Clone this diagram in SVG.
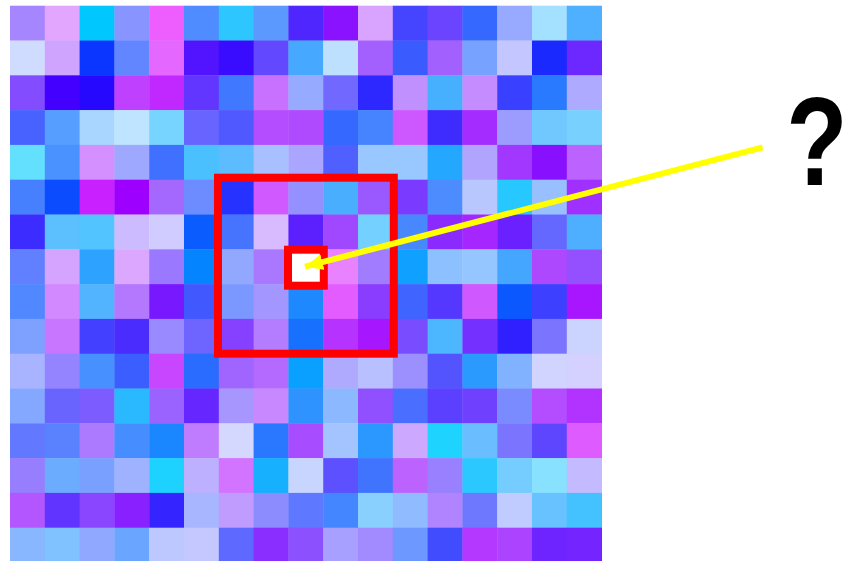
<svg xmlns="http://www.w3.org/2000/svg" width="850" height="561" viewBox="0 0 850 561">
<style>
#grid rect{width:35.2px;height:35.2px}
.box{fill:none;stroke:#ff0000;stroke-width:8}
.q{font-family:"Liberation Sans",Arial,sans-serif;font-weight:bold;font-size:127px;fill:#000}
</style>
<defs>
<marker id="ah" markerUnits="userSpaceOnUse" markerWidth="20" markerHeight="16" refX="18" refY="8" orient="auto">
<path d="M0,0 L18,8 L0,16 Z" fill="#ffff00"/>
</marker>
</defs>
<rect width="850" height="561" fill="#fff"/>
<g id="grid">
<g transform="translate(10,5.7)">
<rect x="0" width="35.2" height="35.2" fill="#a686ff"/><rect x="34.8" width="35.2" height="35.2" fill="#e3a6ff"/><rect x="69.6" width="35.2" height="35.2" fill="#00c8ff"/><rect x="104.4" width="35.2" height="35.2" fill="#8894ff"/><rect x="139.2" width="35.2" height="35.2" fill="#ee5eff"/><rect x="174" width="35.2" height="35.2" fill="#4f8cff"/><rect x="208.8" width="35.2" height="35.2" fill="#2ec6ff"/><rect x="243.6" width="35.2" height="35.2" fill="#5b99ff"/><rect x="278.4" width="35.2" height="35.2" fill="#5026ff"/><rect x="313.2" width="35.2" height="35.2" fill="#8a12ff"/><rect x="348" width="35.2" height="35.2" fill="#d8a4ff"/><rect x="382.8" width="35.2" height="35.2" fill="#4545ff"/><rect x="417.6" width="35.2" height="35.2" fill="#6a44ff"/><rect x="452.4" width="35.2" height="35.2" fill="#3468ff"/><rect x="487.2" width="35.2" height="35.2" fill="#98aaff"/><rect x="522" width="35.2" height="35.2" fill="#a4e0ff"/><rect x="556.8" width="34.8" height="35.2" fill="#4eb0ff"/>
</g>
<g transform="translate(10,40.5)">
<rect x="0" width="35.2" height="35.2" fill="#d0dcff"/><rect x="34.8" width="35.2" height="35.2" fill="#cfa4ff"/><rect x="69.6" width="35.2" height="35.2" fill="#0b36ff"/><rect x="104.4" width="35.2" height="35.2" fill="#6286ff"/><rect x="139.2" width="35.2" height="35.2" fill="#e468ff"/><rect x="174" width="35.2" height="35.2" fill="#5214ff"/><rect x="208.8" width="35.2" height="35.2" fill="#3a0cff"/><rect x="243.6" width="35.2" height="35.2" fill="#6248ff"/><rect x="278.4" width="35.2" height="35.2" fill="#46a8ff"/><rect x="313.2" width="35.2" height="35.2" fill="#bee0ff"/><rect x="348" width="35.2" height="35.2" fill="#a460ff"/><rect x="382.8" width="35.2" height="35.2" fill="#3a5cff"/><rect x="417.6" width="35.2" height="35.2" fill="#a260ff"/><rect x="452.4" width="35.2" height="35.2" fill="#78a2ff"/><rect x="487.2" width="35.2" height="35.2" fill="#c4c6ff"/><rect x="522" width="35.2" height="35.2" fill="#1a2aff"/><rect x="556.8" width="34.8" height="35.2" fill="#6c28ff"/>
</g>
<g transform="translate(10,75.3)">
<rect x="0" width="35.2" height="35.2" fill="#844cff"/><rect x="34.8" width="35.2" height="35.2" fill="#4400ff"/><rect x="69.6" width="35.2" height="35.2" fill="#2608ff"/><rect x="104.4" width="35.2" height="35.2" fill="#c040ff"/><rect x="139.2" width="35.2" height="35.2" fill="#c028ff"/><rect x="174" width="35.2" height="35.2" fill="#6236ff"/><rect x="208.8" width="35.2" height="35.2" fill="#4078ff"/><rect x="243.6" width="35.2" height="35.2" fill="#c870ff"/><rect x="278.4" width="35.2" height="35.2" fill="#96aaff"/><rect x="313.2" width="35.2" height="35.2" fill="#7068ff"/><rect x="348" width="35.2" height="35.2" fill="#2c28ff"/><rect x="382.8" width="35.2" height="35.2" fill="#c090ff"/><rect x="417.6" width="35.2" height="35.2" fill="#46b0ff"/><rect x="452.4" width="35.2" height="35.2" fill="#c48cff"/><rect x="487.2" width="35.2" height="35.2" fill="#3a40ff"/><rect x="522" width="35.2" height="35.2" fill="#2a7aff"/><rect x="556.8" width="34.8" height="35.2" fill="#aeaaff"/>
</g>
<g transform="translate(10,110.1)">
<rect x="0" width="35.2" height="35.2" fill="#4862ff"/><rect x="34.8" width="35.2" height="35.2" fill="#569eff"/><rect x="69.6" width="35.2" height="35.2" fill="#a8d6ff"/><rect x="104.4" width="35.2" height="35.2" fill="#bee4ff"/><rect x="139.2" width="35.2" height="35.2" fill="#76d4ff"/><rect x="174" width="35.2" height="35.2" fill="#6864ff"/><rect x="208.8" width="35.2" height="35.2" fill="#5058ff"/><rect x="243.6" width="35.2" height="35.2" fill="#b44cff"/><rect x="278.4" width="35.2" height="35.2" fill="#b04aff"/><rect x="313.2" width="35.2" height="35.2" fill="#3468ff"/><rect x="348" width="35.2" height="35.2" fill="#4684ff"/><rect x="382.8" width="35.2" height="35.2" fill="#ce58ff"/><rect x="417.6" width="35.2" height="35.2" fill="#3e2cff"/><rect x="452.4" width="35.2" height="35.2" fill="#a42cff"/><rect x="487.2" width="35.2" height="35.2" fill="#9c9cff"/><rect x="522" width="35.2" height="35.2" fill="#70c8ff"/><rect x="556.8" width="34.8" height="35.2" fill="#78d0ff"/>
</g>
<g transform="translate(10,144.9)">
<rect x="0" width="35.2" height="35.2" fill="#64e0ff"/><rect x="34.8" width="35.2" height="35.2" fill="#4a92ff"/><rect x="69.6" width="35.2" height="35.2" fill="#d490ff"/><rect x="104.4" width="35.2" height="35.2" fill="#9ea8ff"/><rect x="139.2" width="35.2" height="35.2" fill="#4070ff"/><rect x="174" width="35.2" height="35.2" fill="#4ac0ff"/><rect x="208.8" width="35.2" height="35.2" fill="#5cbcff"/><rect x="243.6" width="35.2" height="35.2" fill="#a8c0ff"/><rect x="278.4" width="35.2" height="35.2" fill="#aaa6ff"/><rect x="313.2" width="35.2" height="35.2" fill="#5060ff"/><rect x="348" width="35.2" height="35.2" fill="#98c8ff"/><rect x="382.8" width="35.2" height="35.2" fill="#98c8ff"/><rect x="417.6" width="35.2" height="35.2" fill="#24a8ff"/><rect x="452.4" width="35.2" height="35.2" fill="#b0a4ff"/><rect x="487.2" width="35.2" height="35.2" fill="#a238ff"/><rect x="522" width="35.2" height="35.2" fill="#8810ff"/><rect x="556.8" width="34.8" height="35.2" fill="#bc62ff"/>
</g>
<g transform="translate(10,179.7)">
<rect x="0" width="35.2" height="35.2" fill="#4680ff"/><rect x="34.8" width="35.2" height="35.2" fill="#0c4cff"/><rect x="69.6" width="35.2" height="35.2" fill="#c820ff"/><rect x="104.4" width="35.2" height="35.2" fill="#9e00ff"/><rect x="139.2" width="35.2" height="35.2" fill="#a468ff"/><rect x="174" width="35.2" height="35.2" fill="#6c8cff"/><rect x="208.8" width="35.2" height="35.2" fill="#2632ff"/><rect x="243.6" width="35.2" height="35.2" fill="#d05aff"/><rect x="278.4" width="35.2" height="35.2" fill="#9490ff"/><rect x="313.2" width="35.2" height="35.2" fill="#4aaeff"/><rect x="348" width="35.2" height="35.2" fill="#9a58ff"/><rect x="382.8" width="35.2" height="35.2" fill="#7a3aff"/><rect x="417.6" width="35.2" height="35.2" fill="#4c8cff"/><rect x="452.4" width="35.2" height="35.2" fill="#b8c8ff"/><rect x="487.2" width="35.2" height="35.2" fill="#26c8ff"/><rect x="522" width="35.2" height="35.2" fill="#98c0ff"/><rect x="556.8" width="34.8" height="35.2" fill="#a030ff"/>
</g>
<g transform="translate(10,214.5)">
<rect x="0" width="35.2" height="35.2" fill="#3c2cff"/><rect x="34.8" width="35.2" height="35.2" fill="#5cc0ff"/><rect x="69.6" width="35.2" height="35.2" fill="#52c4ff"/><rect x="104.4" width="35.2" height="35.2" fill="#ccbcff"/><rect x="139.2" width="35.2" height="35.2" fill="#d0ccff"/><rect x="174" width="35.2" height="35.2" fill="#0a5cff"/><rect x="208.8" width="35.2" height="35.2" fill="#4674ff"/><rect x="243.6" width="35.2" height="35.2" fill="#d8baff"/><rect x="278.4" width="35.2" height="35.2" fill="#5c20ff"/><rect x="313.2" width="35.2" height="35.2" fill="#a048ff"/><rect x="348" width="35.2" height="35.2" fill="#74d0ff"/><rect x="382.8" width="35.2" height="35.2" fill="#4888ff"/><rect x="417.6" width="35.2" height="35.2" fill="#8a2aff"/><rect x="452.4" width="35.2" height="35.2" fill="#a626ff"/><rect x="487.2" width="35.2" height="35.2" fill="#6a20ff"/><rect x="522" width="35.2" height="35.2" fill="#6468ff"/><rect x="556.8" width="34.8" height="35.2" fill="#4eaeff"/>
</g>
<g transform="translate(10,249.3)">
<rect x="0" width="35.2" height="35.2" fill="#6080ff"/><rect x="34.8" width="35.2" height="35.2" fill="#d4a4ff"/><rect x="69.6" width="35.2" height="35.2" fill="#2ea2ff"/><rect x="104.4" width="35.2" height="35.2" fill="#dca8ff"/><rect x="139.2" width="35.2" height="35.2" fill="#9a78ff"/><rect x="174" width="35.2" height="35.2" fill="#0484ff"/><rect x="208.8" width="35.2" height="35.2" fill="#92a8ff"/><rect x="243.6" width="35.2" height="35.2" fill="#aa78ff"/><rect x="278.4" width="35.2" height="35.2" fill="#a080ff"/><rect x="313.2" width="35.2" height="35.2" fill="#e882ff"/><rect x="348" width="35.2" height="35.2" fill="#a27cff"/><rect x="382.8" width="35.2" height="35.2" fill="#10a0ff"/><rect x="417.6" width="35.2" height="35.2" fill="#8cc0ff"/><rect x="452.4" width="35.2" height="35.2" fill="#96c6ff"/><rect x="487.2" width="35.2" height="35.2" fill="#44a6ff"/><rect x="522" width="35.2" height="35.2" fill="#ae48ff"/><rect x="556.8" width="34.8" height="35.2" fill="#9450ff"/>
</g>
<g transform="translate(10,284.1)">
<rect x="0" width="35.2" height="35.2" fill="#5288ff"/><rect x="34.8" width="35.2" height="35.2" fill="#d288ff"/><rect x="69.6" width="35.2" height="35.2" fill="#52b4ff"/><rect x="104.4" width="35.2" height="35.2" fill="#b478ff"/><rect x="139.2" width="35.2" height="35.2" fill="#7818ff"/><rect x="174" width="35.2" height="35.2" fill="#4258ff"/><rect x="208.8" width="35.2" height="35.2" fill="#7a98ff"/><rect x="243.6" width="35.2" height="35.2" fill="#a496ff"/><rect x="278.4" width="35.2" height="35.2" fill="#1e88ff"/><rect x="313.2" width="35.2" height="35.2" fill="#e25cff"/><rect x="348" width="35.2" height="35.2" fill="#8a3cff"/><rect x="382.8" width="35.2" height="35.2" fill="#4064ff"/><rect x="417.6" width="35.2" height="35.2" fill="#5438ff"/><rect x="452.4" width="35.2" height="35.2" fill="#d058ff"/><rect x="487.2" width="35.2" height="35.2" fill="#0c58ff"/><rect x="522" width="35.2" height="35.2" fill="#3e40ff"/><rect x="556.8" width="34.8" height="35.2" fill="#a816ff"/>
</g>
<g transform="translate(10,318.9)">
<rect x="0" width="35.2" height="35.2" fill="#7ea0ff"/><rect x="34.8" width="35.2" height="35.2" fill="#c876ff"/><rect x="69.6" width="35.2" height="35.2" fill="#4440ff"/><rect x="104.4" width="35.2" height="35.2" fill="#4a2cff"/><rect x="139.2" width="35.2" height="35.2" fill="#9a8aff"/><rect x="174" width="35.2" height="35.2" fill="#6e64ff"/><rect x="208.8" width="35.2" height="35.2" fill="#8640ff"/><rect x="243.6" width="35.2" height="35.2" fill="#b47cff"/><rect x="278.4" width="35.2" height="35.2" fill="#1870ff"/><rect x="313.2" width="35.2" height="35.2" fill="#b632ff"/><rect x="348" width="35.2" height="35.2" fill="#a616ff"/><rect x="382.8" width="35.2" height="35.2" fill="#7a4cff"/><rect x="417.6" width="35.2" height="35.2" fill="#4cb6ff"/><rect x="452.4" width="35.2" height="35.2" fill="#7430ff"/><rect x="487.2" width="35.2" height="35.2" fill="#3020ff"/><rect x="522" width="35.2" height="35.2" fill="#7a74ff"/><rect x="556.8" width="34.8" height="35.2" fill="#cad4ff"/>
</g>
<g transform="translate(10,353.7)">
<rect x="0" width="35.2" height="35.2" fill="#a8b4ff"/><rect x="34.8" width="35.2" height="35.2" fill="#9484ff"/><rect x="69.6" width="35.2" height="35.2" fill="#4690ff"/><rect x="104.4" width="35.2" height="35.2" fill="#3a5eff"/><rect x="139.2" width="35.2" height="35.2" fill="#c846ff"/><rect x="174" width="35.2" height="35.2" fill="#2a6cff"/><rect x="208.8" width="35.2" height="35.2" fill="#a064ff"/><rect x="243.6" width="35.2" height="35.2" fill="#b46aff"/><rect x="278.4" width="35.2" height="35.2" fill="#0aa0ff"/><rect x="313.2" width="35.2" height="35.2" fill="#b0aaff"/><rect x="348" width="35.2" height="35.2" fill="#b8c0ff"/><rect x="382.8" width="35.2" height="35.2" fill="#9c90ff"/><rect x="417.6" width="35.2" height="35.2" fill="#5454ff"/><rect x="452.4" width="35.2" height="35.2" fill="#2a9aff"/><rect x="487.2" width="35.2" height="35.2" fill="#80b2ff"/><rect x="522" width="35.2" height="35.2" fill="#d0d4ff"/><rect x="556.8" width="34.8" height="35.2" fill="#d4d0ff"/>
</g>
<g transform="translate(10,388.5)">
<rect x="0" width="35.2" height="35.2" fill="#84a8ff"/><rect x="34.8" width="35.2" height="35.2" fill="#6a64ff"/><rect x="69.6" width="35.2" height="35.2" fill="#7c5cff"/><rect x="104.4" width="35.2" height="35.2" fill="#2ab8ff"/><rect x="139.2" width="35.2" height="35.2" fill="#9a62ff"/><rect x="174" width="35.2" height="35.2" fill="#6626ff"/><rect x="208.8" width="35.2" height="35.2" fill="#a896ff"/><rect x="243.6" width="35.2" height="35.2" fill="#c888ff"/><rect x="278.4" width="35.2" height="35.2" fill="#2e92ff"/><rect x="313.2" width="35.2" height="35.2" fill="#8cb8ff"/><rect x="348" width="35.2" height="35.2" fill="#9050ff"/><rect x="382.8" width="35.2" height="35.2" fill="#4a6eff"/><rect x="417.6" width="35.2" height="35.2" fill="#5c40ff"/><rect x="452.4" width="35.2" height="35.2" fill="#7040ff"/><rect x="487.2" width="35.2" height="35.2" fill="#7a8aff"/><rect x="522" width="35.2" height="35.2" fill="#b44cff"/><rect x="556.8" width="34.8" height="35.2" fill="#b232ff"/>
</g>
<g transform="translate(10,423.3)">
<rect x="0" width="35.2" height="35.2" fill="#6278ff"/><rect x="34.8" width="35.2" height="35.2" fill="#5a82ff"/><rect x="69.6" width="35.2" height="35.2" fill="#ac7aff"/><rect x="104.4" width="35.2" height="35.2" fill="#468eff"/><rect x="139.2" width="35.2" height="35.2" fill="#1a86ff"/><rect x="174" width="35.2" height="35.2" fill="#c07cff"/><rect x="208.8" width="35.2" height="35.2" fill="#d4d8ff"/><rect x="243.6" width="35.2" height="35.2" fill="#2a78ff"/><rect x="278.4" width="35.2" height="35.2" fill="#a84cff"/><rect x="313.2" width="35.2" height="35.2" fill="#a4c4ff"/><rect x="348" width="35.2" height="35.2" fill="#2a98ff"/><rect x="382.8" width="35.2" height="35.2" fill="#cca8ff"/><rect x="417.6" width="35.2" height="35.2" fill="#1ed4ff"/><rect x="452.4" width="35.2" height="35.2" fill="#6abeff"/><rect x="487.2" width="35.2" height="35.2" fill="#7a74ff"/><rect x="522" width="35.2" height="35.2" fill="#5e46ff"/><rect x="556.8" width="34.8" height="35.2" fill="#de5cff"/>
</g>
<g transform="translate(10,458.1)">
<rect x="0" width="35.2" height="35.2" fill="#967eff"/><rect x="34.8" width="35.2" height="35.2" fill="#6cacff"/><rect x="69.6" width="35.2" height="35.2" fill="#7aa0ff"/><rect x="104.4" width="35.2" height="35.2" fill="#9eb2ff"/><rect x="139.2" width="35.2" height="35.2" fill="#1ed2ff"/><rect x="174" width="35.2" height="35.2" fill="#bcb0ff"/><rect x="208.8" width="35.2" height="35.2" fill="#d274ff"/><rect x="243.6" width="35.2" height="35.2" fill="#16b0ff"/><rect x="278.4" width="35.2" height="35.2" fill="#c8d6ff"/><rect x="313.2" width="35.2" height="35.2" fill="#5c50ff"/><rect x="348" width="35.2" height="35.2" fill="#4074ff"/><rect x="382.8" width="35.2" height="35.2" fill="#bc62ff"/><rect x="417.6" width="35.2" height="35.2" fill="#9880ff"/><rect x="452.4" width="35.2" height="35.2" fill="#2ac8ff"/><rect x="487.2" width="35.2" height="35.2" fill="#74ccff"/><rect x="522" width="35.2" height="35.2" fill="#88e2ff"/><rect x="556.8" width="34.8" height="35.2" fill="#c4baff"/>
</g>
<g transform="translate(10,492.9)">
<rect x="0" width="35.2" height="35.2" fill="#b456ff"/><rect x="34.8" width="35.2" height="35.2" fill="#6234ff"/><rect x="69.6" width="35.2" height="35.2" fill="#8a46ff"/><rect x="104.4" width="35.2" height="35.2" fill="#8820ff"/><rect x="139.2" width="35.2" height="35.2" fill="#3424ff"/><rect x="174" width="35.2" height="35.2" fill="#a8b6ff"/><rect x="208.8" width="35.2" height="35.2" fill="#c09cff"/><rect x="243.6" width="35.2" height="35.2" fill="#8c8cff"/><rect x="278.4" width="35.2" height="35.2" fill="#5e78ff"/><rect x="313.2" width="35.2" height="35.2" fill="#4486ff"/><rect x="348" width="35.2" height="35.2" fill="#8ad0ff"/><rect x="382.8" width="35.2" height="35.2" fill="#90bcff"/><rect x="417.6" width="35.2" height="35.2" fill="#b084ff"/><rect x="452.4" width="35.2" height="35.2" fill="#6e78ff"/><rect x="487.2" width="35.2" height="35.2" fill="#c0ccff"/><rect x="522" width="35.2" height="35.2" fill="#68c2ff"/><rect x="556.8" width="34.8" height="35.2" fill="#44c2ff"/>
</g>
<g transform="translate(10,527.7)">
<rect x="0" width="35.2" height="35.2" fill="#88b6ff"/><rect x="34.8" width="35.2" height="35.2" fill="#80c2ff"/><rect x="69.6" width="35.2" height="35.2" fill="#90a8ff"/><rect x="104.4" width="35.2" height="35.2" fill="#6aa6ff"/><rect x="139.2" width="35.2" height="35.2" fill="#bcc8ff"/><rect x="174" width="35.2" height="35.2" fill="#c4c8ff"/><rect x="208.8" width="35.2" height="35.2" fill="#5e6aff"/><rect x="243.6" width="35.2" height="35.2" fill="#8a2eff"/><rect x="278.4" width="35.2" height="35.2" fill="#8c50ff"/><rect x="313.2" width="35.2" height="35.2" fill="#a8a0ff"/><rect x="348" width="35.2" height="35.2" fill="#a28aff"/><rect x="382.8" width="35.2" height="35.2" fill="#6c98ff"/><rect x="417.6" width="35.2" height="35.2" fill="#424cff"/><rect x="452.4" width="35.2" height="35.2" fill="#b438ff"/><rect x="487.2" width="35.2" height="35.2" fill="#ac44ff"/><rect x="522" width="35.2" height="35.2" fill="#6e24ff"/><rect x="556.8" width="34.8" height="35.2" fill="#7424ff"/>
</g>
</g>
<g id="zoom-box"><rect class="box" x="218" y="177.7" width="175.8" height="176"/></g>
<g id="target-cell"><rect class="box" x="288" y="249.7" width="35.8" height="36" style="fill:#ffffff"/></g>
<g id="connectors">
<line x1="762.7" y1="147.3" x2="305" y2="266.7" stroke="#ffff00" stroke-width="6" marker-end="url(#ah)"/>
</g>
<g id="question"><text class="q" transform="translate(817,185) scale(0.79,1)" x="0" y="0" text-anchor="middle">?</text></g>
</svg>
